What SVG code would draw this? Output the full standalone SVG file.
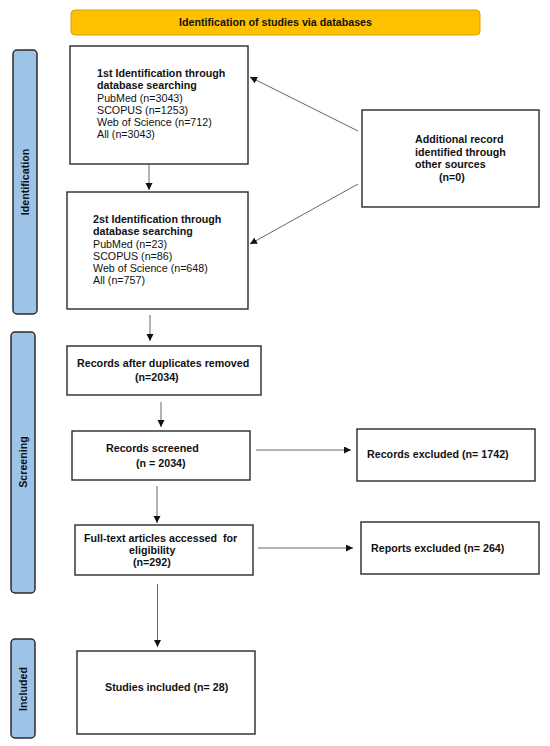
<svg xmlns="http://www.w3.org/2000/svg" width="550" height="746" viewBox="0 0 550 746">
<defs>
<style>
text{font-family:"Liberation Sans",Arial,sans-serif;font-size:10.7px;fill:#111;}
.b{font-weight:bold;}
.box{fill:#fff;stroke:#2a2a2a;stroke-width:1.4;}
.side{fill:#9DC3E6;stroke:#2b2b2b;stroke-width:1.5;}
.side-t{font-weight:bold;font-size:10.7px;text-anchor:middle;dominant-baseline:central;}
.con line{stroke:#555;stroke-width:0.9;marker-end:url(#ah);}
</style>
<marker id="ah" markerUnits="userSpaceOnUse" markerWidth="8" markerHeight="8" refX="7" refY="3.5" orient="auto">
<path d="M0,0 L7,3.5 L0,7 z" fill="#111"/>
</marker>
</defs>
<rect width="550" height="746" fill="#fff"/>

<g id="header">
<rect x="71" y="10" width="409" height="25" rx="4" fill="#FFC000" stroke="#D9A000" stroke-width="1"/>
<text class="b" x="275.5" y="26" text-anchor="middle">Identification of studies via databases</text>
</g>

<g id="side-identification">
<rect class="side" x="13" y="50" width="24" height="264" rx="4"/>
<text class="side-t" transform="translate(25,182) rotate(-90)">Identification</text>
</g>
<g id="side-screening">
<rect class="side" x="11" y="332" width="24" height="261" rx="4"/>
<text class="side-t" transform="translate(23,462) rotate(-90)">Screening</text>
</g>
<g id="side-included">
<rect class="side" x="11" y="639" width="24" height="99" rx="4"/>
<text class="side-t" transform="translate(23,689) rotate(-90)">Included</text>
</g>

<g id="box-1st">
<rect class="box" x="70" y="46" width="178" height="118"/>
<text class="b" x="97" y="77">1st Identification through</text>
<text class="b" x="97" y="89">database searching</text>
<text x="97" y="102">PubMed (n=3043)</text>
<text x="97" y="114">SCOPUS (n=1253)</text>
<text x="97" y="126">Web of Science (n=712)</text>
<text x="97" y="138">All (n=3043)</text>
</g>

<g id="box-2nd">
<rect class="box" x="67" y="192" width="181" height="117"/>
<text class="b" x="93" y="223">2st Identification through</text>
<text class="b" x="93" y="235">database searching</text>
<text x="93" y="248">PubMed (n=23)</text>
<text x="93" y="260">SCOPUS (n=86)</text>
<text x="93" y="272">Web of Science (n=648)</text>
<text x="93" y="284">All (n=757)</text>
</g>

<g id="box-additional">
<rect class="box" x="362" y="110" width="177" height="97"/>
<text class="b" x="415" y="143">Additional record</text>
<text class="b" x="415" y="156">identified through</text>
<text class="b" x="415" y="168">other sources</text>
<text class="b" x="439" y="181">(n=0)</text>
</g>

<g id="box-duplicates">
<rect class="box" x="67" y="346" width="194" height="49"/>
<text class="b" x="77" y="367">Records after duplicates removed</text>
<text class="b" x="135" y="381">(n=2034)</text>
</g>

<g id="box-screened">
<rect class="box" x="72" y="431" width="178" height="49"/>
<text class="b" x="106" y="452">Records screened</text>
<text class="b" x="136" y="467">(n = 2034)</text>
</g>

<g id="box-excluded">
<rect class="box" x="357" y="429" width="178" height="52"/>
<text class="b" x="367" y="458">Records excluded (n= 1742)</text>
</g>

<g id="box-fulltext">
<rect class="box" x="75" y="525" width="178" height="50"/>
<text class="b" x="84" y="542" style="white-space:pre">Full-text articles accessed  for</text>
<text class="b" x="129" y="554">eligibility</text>
<text class="b" x="133" y="566">(n=292)</text>
</g>

<g id="box-reports">
<rect class="box" x="361" y="522" width="178" height="52"/>
<text class="b" x="371" y="552">Reports excluded (n= 264)</text>
</g>

<g id="box-studies">
<rect class="box" x="77" y="651" width="178" height="83"/>
<text class="b" x="105" y="691">Studies included (n= 28)</text>
</g>

<g id="connectors" class="con">
<line x1="149" y1="164" x2="149" y2="190"/>
<line x1="358" y1="131" x2="250" y2="77"/>
<line x1="358" y1="184" x2="250" y2="244"/>
<line x1="150" y1="315" x2="150" y2="341"/>
<line x1="161" y1="402" x2="161" y2="427"/>
<line x1="256" y1="450" x2="351" y2="450"/>
<line x1="157" y1="486" x2="157" y2="523"/>
<line x1="258" y1="548" x2="353" y2="548"/>
<line x1="157.5" y1="584" x2="157.5" y2="647"/>
</g>
</svg>
